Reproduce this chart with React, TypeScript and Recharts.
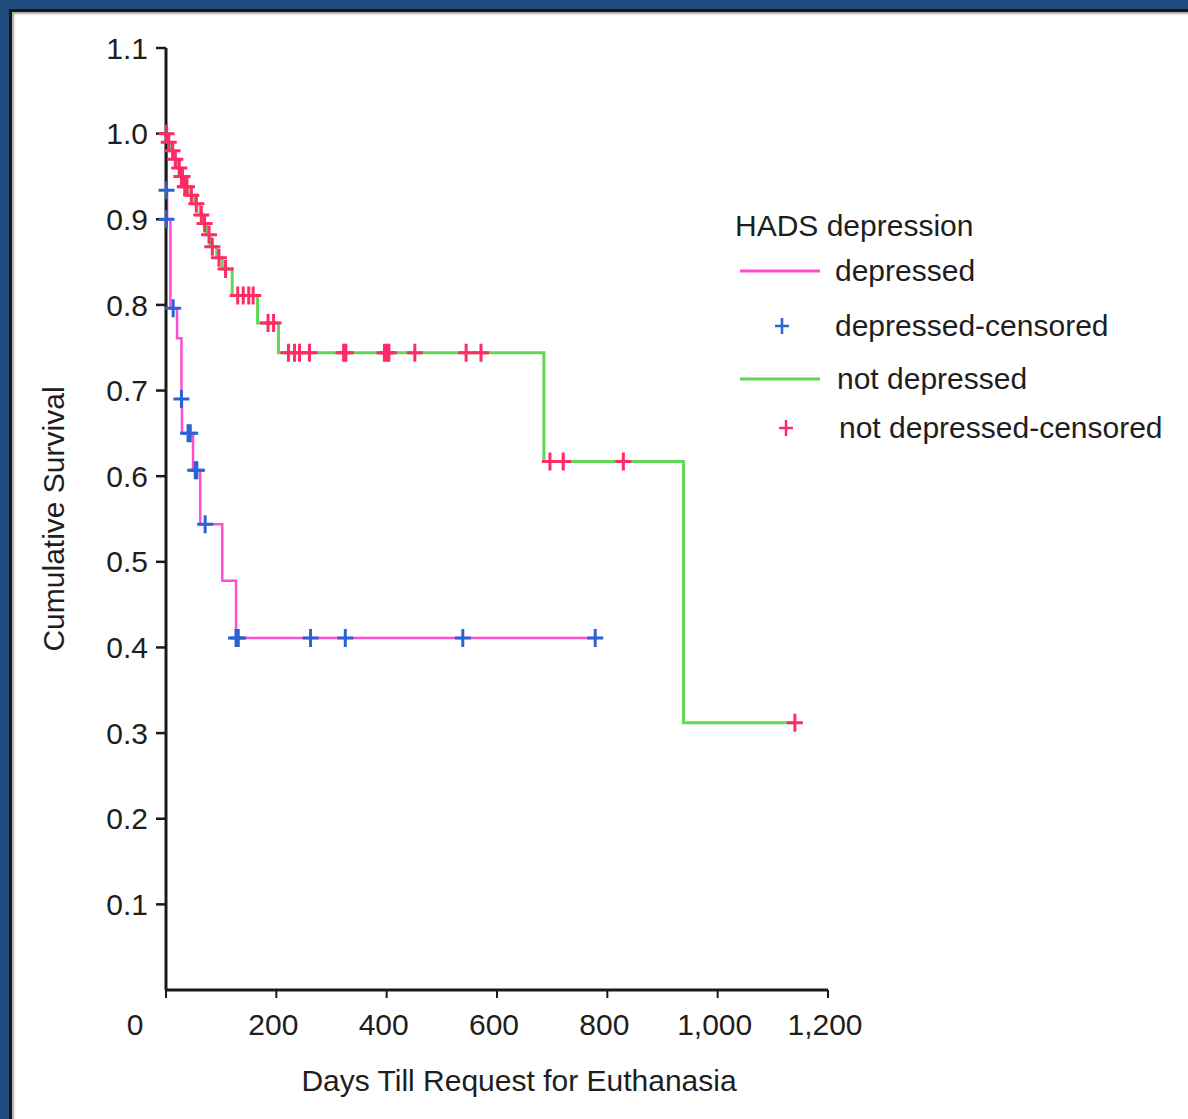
import React from 'react';
import { ComposedChart, Line, Scatter, XAxis, YAxis, Legend } from 'recharts';

// Kaplan-Meier steps (day the level starts, survival level)
const depressedDays = [0, 1, 2, 8, 20, 28, 29, 49, 62, 102, 127, 778];
const depressedSurv = [1.0, 0.934, 0.9, 0.796, 0.761, 0.69, 0.65, 0.607, 0.544, 0.478, 0.411, 0.411];

const depressedCensorDays = [1, 1, 13, 28, 40, 44, 53, 56, 71, 127, 131, 262, 325, 538, 778];
const depressedCensorSurv = [0.934, 0.9, 0.796, 0.69, 0.65, 0.65, 0.607, 0.607, 0.544, 0.411, 0.411, 0.411, 0.411, 0.411, 0.411];

const notDepressedDays = [0, 4, 9, 14, 20, 26, 31, 40, 52, 62, 68, 74, 80, 92, 102, 120, 166, 204, 685, 938, 1140];
const notDepressedSurv = [1.0, 0.99, 0.98, 0.97, 0.96, 0.95, 0.938, 0.928, 0.918, 0.905, 0.895, 0.882, 0.868, 0.855, 0.842, 0.811, 0.779, 0.744, 0.617, 0.312, 0.312];

const notDepressedCensorDays = [1, 5, 12, 17, 24, 28, 30, 34, 38, 46, 55, 64, 70, 78, 84, 96, 108, 130, 140, 150, 158, 185, 195, 222, 233, 242, 260, 322, 326, 396, 400, 404, 451, 544, 571, 696, 720, 829, 1140];
const notDepressedCensorSurv = [1.0, 0.99, 0.98, 0.97, 0.96, 0.95, 0.95, 0.938, 0.938, 0.928, 0.918, 0.905, 0.895, 0.882, 0.868, 0.855, 0.842, 0.811, 0.811, 0.811, 0.811, 0.779, 0.779, 0.744, 0.744, 0.744, 0.744, 0.744, 0.744, 0.744, 0.744, 0.744, 0.744, 0.744, 0.744, 0.617, 0.617, 0.617, 0.312];

const xTicks = [0, 200, 400, 600, 800, 1000, 1200];
const yTicks = [0.1, 0.2, 0.3, 0.4, 0.5, 0.6, 0.7, 0.8, 0.9, 1.0, 1.1];

const PINK_LINE = '#ff4fcf';
const BLUE_CROSS = '#2e62d4';
const GREEN_LINE = '#62d657';
const RED_CROSS = '#ff2a66';
const FONT = '"Liberation Sans", Arial, Helvetica, sans-serif';
const TEXT = '#1e1e1e';
const FS = 30;

const toPoints = (days: number[], surv: number[]) => days.map((day, i) => ({ day, surv: surv[i] }));

const depressed = toPoints(depressedDays, depressedSurv);
const depressedCensored = toPoints(depressedCensorDays, depressedCensorSurv);
const notDepressed = toPoints(notDepressedDays, notDepressedSurv);
const notDepressedCensored = toPoints(notDepressedCensorDays, notDepressedCensorSurv);

const crossShape = (color: string) => (props: any) => {
  const { cx, cy } = props;
  if (cx == null || cy == null) return <g />;
  return (
    <path
      d={`M${cx - 8},${cy}h16M${cx},${cy - 9}v18`}
      stroke={color}
      strokeWidth={3}
      fill="none"
    />
  );
};

const XTick = (props: any) => {
  const { x, y, payload } = props;
  const dx = payload.value === 0 ? -31 : -3;
  return (
    <text x={x + dx} y={y + 35} textAnchor="middle" fontSize={FS} fill={TEXT} fontFamily={FONT}>
      {payload.value.toLocaleString('en-US')}
    </text>
  );
};

const YLabel = (props: any) => {
  const vb = props.viewBox;
  const x = vb.x + 33;
  const y = vb.y + vb.height / 2;
  return (
    <text
      x={x}
      y={y}
      transform={`rotate(-90 ${x} ${y})`}
      textAnchor="middle"
      dominantBaseline="central"
      fontSize={FS}
      fill={TEXT}
      fontFamily={FONT}
    >
      Cumulative Survival
    </text>
  );
};

const XLabel = (props: any) => {
  const vb = props.viewBox;
  const x = vb.x + vb.width / 2 + 22;
  const y = vb.y + 90;
  return (
    <text x={x} y={y} textAnchor="middle" dominantBaseline="central" fontSize={FS} fill={TEXT} fontFamily={FONT}>
      Days Till Request for Euthanasia
    </text>
  );
};

const legendRows = [
  { name: 'depressed', kind: 'line', color: PINK_LINE, top: 45, labelLeft: 105 },
  { name: 'depressed-censored', kind: 'cross', color: BLUE_CROSS, top: 100, labelLeft: 105 },
  { name: 'not depressed', kind: 'line', color: GREEN_LINE, top: 153, labelLeft: 107 },
  { name: 'not depressed-censored', kind: 'cross', color: RED_CROSS, top: 202, labelLeft: 109 },
];

const renderLegend = () => (
  <div style={{ position: 'relative', width: 458, height: 240, fontFamily: FONT, fontSize: FS, color: TEXT }}>
    <div style={{ position: 'absolute', left: 5, top: 0, lineHeight: '34px', whiteSpace: 'nowrap' }}>HADS depression</div>
    {legendRows.map((r) => (
      <div key={r.name} style={{ position: 'absolute', left: 0, top: r.top, height: 34, width: 458 }}>
        <svg width={100} height={34} style={{ position: 'absolute', left: 0, top: 0 }}>
          {r.kind === 'line' ? (
            <line x1={10} x2={90} y1={17} y2={17} stroke={r.color} strokeWidth={3} />
          ) : (
            <path d={`M${r.labelLeft - 60},17h14M${r.labelLeft - 53},9v16`} stroke={r.color} strokeWidth={2.5} fill="none" />
          )}
        </svg>
        <div style={{ position: 'absolute', left: r.labelLeft, top: 0, lineHeight: '34px', whiteSpace: 'nowrap' }}>{r.name}</div>
      </div>
    ))}
  </div>
);

export default function App() {
  return (
    <div style={{ position: 'absolute', left: 0, top: 0, width: 1188, height: 1119, background: '#1f4b7d', overflow: 'hidden' }}>
      <div
        style={{
          position: 'absolute',
          left: 9,
          top: 9,
          right: 0,
          bottom: 0,
          background: '#fff',
          borderTop: '3px solid #161616',
          borderLeft: '3px solid #161616',
          boxShadow: 'inset 2px 2px 2px rgba(0,0,0,0.35)',
        }}
      />
      <div style={{ position: 'absolute', left: 0, top: 0 }}>
        <ComposedChart width={1188} height={1119} margin={{ top: 48, right: 360, bottom: 69, left: 20 }}>
          <XAxis
            type="number"
            dataKey="day"
            domain={[0, 1200]}
            ticks={xTicks}
            interval={0}
            height={60}
            tickSize={8}
            tick={<XTick />}
            axisLine={{ stroke: '#1a1a1a', strokeWidth: 3 }}
            tickLine={{ stroke: '#1a1a1a', strokeWidth: 2 }}
            label={<XLabel />}
          />
          <YAxis
            type="number"
            dataKey="surv"
            domain={[0, 1.1]}
            ticks={yTicks}
            interval={0}
            width={146}
            tickSize={10}
            tickMargin={8}
            tickFormatter={(v: number) => v.toFixed(1)}
            tick={{ fontSize: FS, fill: TEXT, fontFamily: FONT }}
            axisLine={{ stroke: '#1a1a1a', strokeWidth: 3 }}
            tickLine={{ stroke: '#1a1a1a', strokeWidth: 2.5 }}
            label={<YLabel />}
          />
          <Legend
            layout="horizontal"
            verticalAlign="middle"
            align="center"
            content={renderLegend}
            wrapperStyle={{ left: 730, top: 209, width: 458, height: 240 }}
          />
          <Line
            data={notDepressed}
            dataKey="surv"
            type="stepAfter"
            stroke={GREEN_LINE}
            strokeWidth={3}
            dot={false}
            activeDot={false}
            isAnimationActive={false}
            name="not depressed"
          />
          <Line
            data={depressed}
            dataKey="surv"
            type="stepAfter"
            stroke={PINK_LINE}
            strokeWidth={2.5}
            dot={false}
            activeDot={false}
            isAnimationActive={false}
            name="depressed"
          />
          <Scatter
            data={notDepressedCensored}
            dataKey="surv"
            shape={crossShape(RED_CROSS)}
            isAnimationActive={false}
            name="not depressed-censored"
          />
          <Scatter
            data={depressedCensored}
            dataKey="surv"
            shape={crossShape(BLUE_CROSS)}
            isAnimationActive={false}
            name="depressed-censored"
          />
        </ComposedChart>
      </div>
    </div>
  );
}
